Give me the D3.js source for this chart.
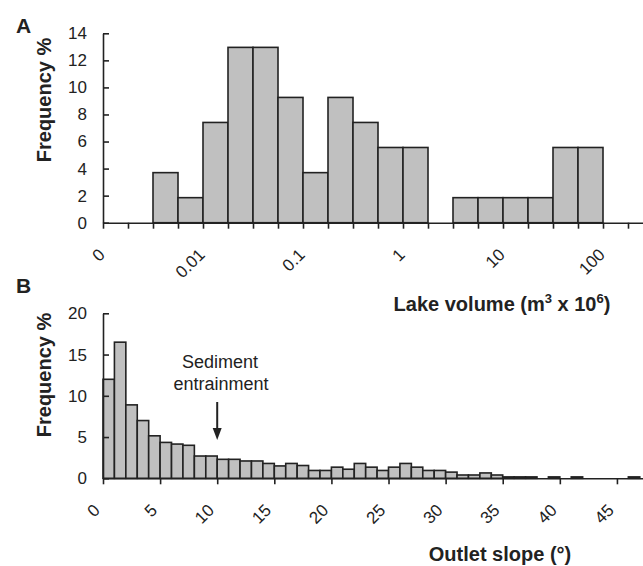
<!DOCTYPE html>
<html>
<head>
<meta charset="utf-8">
<script src="https://cdn.jsdelivr.net/npm/d3@7"></script>
<style>
  body { margin: 0; background: #fff; }
  svg { display: block; font-family: "Liberation Sans", Arial, sans-serif; }
</style>
</head>
<body>
<div id="chart"></div>
<script>
// Panel A: lake volume histogram, quarter-decade bins (frequency %)
const volumeFreq = [0, 0, 3.7, 1.85, 7.41, 12.96, 12.96, 9.26, 3.7, 9.26, 7.41,
  5.56, 5.56, 0, 1.85, 1.85, 1.85, 1.85, 5.56, 5.56, 0];
const volumeTickLabels = ["0", "0.01", "0.1", "1", "10", "100"];
const volumeLabelBins = [0, 4, 8, 12, 16, 20];
const volumeYTicks = [0, 2, 4, 6, 8, 10, 12, 14];

// Panel B: outlet slope histogram, 1 degree bins (frequency %)
const slopeFreq = [12.0, 16.5, 8.9, 7.0, 5.15, 4.35, 4.15, 4.0, 2.7, 2.7,
  2.3, 2.3, 2.1, 2.1, 1.8, 1.5, 1.8, 1.55, 0.95, 0.95,
  1.35, 1.1, 1.8, 1.35, 0.95, 1.35, 1.8, 1.35, 0.95, 0.95,
  0.75, 0.4, 0.4, 0.65, 0.4, 0.17, 0.17, 0.17, 0, 0.17,
  0, 0.17, 0, 0, 0, 0, 0.17];
const slopeXTicks = [0, 5, 10, 15, 20, 25, 30, 35, 40, 45];
const slopeYTicks = [0, 5, 10, 15, 20];
const entrainmentSlope = 10;

const W = 643, H = 566;
const ink = "#222";
const barFill = "#c0c0c0";

const svg = d3.select("#chart").append("svg")
  .attr("width", W).attr("height", H);

function styleAxis(g) {
  g.selectAll("path.domain").attr("stroke", ink).attr("stroke-width", 1.6);
  g.selectAll(".tick line").attr("stroke", ink).attr("stroke-width", 1.6);
  g.selectAll("text").attr("fill", ink).attr("font-size", 17)
    .attr("font-family", "'Liberation Sans', Arial, sans-serif");
}

// ---------- Panel A ----------
const xA = d3.scaleLinear().domain([0, 21.6]).range([103, 643]);
const yA = d3.scaleLinear().domain([0, 14]).range([222.7, 33.3]);

svg.append("g").selectAll("rect")
  .data(volumeFreq.map((v, i) => ({i, v})).filter(d => d.v > 0))
  .join("rect")
  .attr("x", d => xA(d.i))
  .attr("width", d => xA(d.i + 1) - xA(d.i))
  .attr("y", d => yA(d.v))
  .attr("height", d => yA(0) - yA(d.v))
  .attr("fill", barFill)
  .attr("stroke", ink)
  .attr("stroke-width", 1.6);

const axA = svg.append("g")
  .attr("transform", `translate(0,${yA(0)})`)
  .call(d3.axisBottom(xA).tickValues(d3.range(0, 22)).tickFormat("")
    .tickSizeInner(6).tickSizeOuter(0));
styleAxis(axA);

svg.append("g").selectAll("text")
  .data(volumeLabelBins)
  .join("text")
  .attr("transform", d => `translate(${xA(d) + 3},${yA(0) + 33}) rotate(-45)`)
  .attr("text-anchor", "end")
  .attr("font-size", 17)
  .attr("fill", ink)
  .text((d, i) => volumeTickLabels[i]);

const ayA = svg.append("g")
  .attr("transform", `translate(${xA(0)},0)`)
  .call(d3.axisLeft(yA).tickValues(volumeYTicks)
    .tickSizeInner(-6).tickSizeOuter(0).tickPadding(16));
styleAxis(ayA);

svg.append("text")
  .attr("transform", "translate(51,100) rotate(-90)")
  .attr("text-anchor", "middle")
  .attr("font-size", 20).attr("font-weight", "bold").attr("fill", ink)
  .text("Frequency %");

const volTitle = svg.append("text")
  .attr("x", 502).attr("y", 311)
  .attr("text-anchor", "middle")
  .attr("font-size", 20).attr("font-weight", "bold").attr("fill", ink);
volTitle.append("tspan").text("Lake volume (m");
volTitle.append("tspan").attr("font-size", 13).attr("dy", -8).text("3");
volTitle.append("tspan").attr("dy", 8).text(" x 10");
volTitle.append("tspan").attr("font-size", 13).attr("dy", -8).text("6");
volTitle.append("tspan").attr("dy", 8).text(")");

svg.append("text")
  .attr("x", 16).attr("y", 33)
  .attr("font-size", 21).attr("font-weight", "bold").attr("fill", ink)
  .text("A");

// ---------- Panel B ----------
const xB = d3.scaleLinear().domain([0, 47.3]).range([103, 643.2]);
const yB = d3.scaleLinear().domain([0, 20]).range([478.3, 313.3]);

svg.append("g").selectAll("rect")
  .data(slopeFreq.map((v, i) => ({i, v})).filter(d => d.v > 0))
  .join("rect")
  .attr("x", d => xB(d.i))
  .attr("width", d => xB(d.i + 1) - xB(d.i))
  .attr("y", d => yB(d.v))
  .attr("height", d => yB(0) - yB(d.v))
  .attr("fill", barFill)
  .attr("stroke", ink)
  .attr("stroke-width", 1.6);

const axB = svg.append("g")
  .attr("transform", `translate(0,${yB(0)})`)
  .call(d3.axisBottom(xB).tickValues(slopeXTicks).tickFormat("")
    .tickSizeInner(6).tickSizeOuter(0));
styleAxis(axB);

svg.append("g").selectAll("text")
  .data(slopeXTicks)
  .join("text")
  .attr("transform", d => `translate(${xB(d) - 2},${yB(0) + 33}) rotate(-45)`)
  .attr("text-anchor", "end")
  .attr("font-size", 17)
  .attr("fill", ink)
  .text(d => d);

const ayB = svg.append("g")
  .attr("transform", `translate(${xB(0)},0)`)
  .call(d3.axisLeft(yB).tickValues(slopeYTicks)
    .tickSizeInner(-6).tickSizeOuter(0).tickPadding(16));
styleAxis(ayB);

svg.append("text")
  .attr("transform", "translate(51,375) rotate(-90)")
  .attr("text-anchor", "middle")
  .attr("font-size", 20).attr("font-weight", "bold").attr("fill", ink)
  .text("Frequency %");

svg.append("text")
  .attr("x", 500).attr("y", 561)
  .attr("text-anchor", "middle")
  .attr("font-size", 20).attr("font-weight", "bold").attr("fill", ink)
  .text("Outlet slope (°)");

svg.append("text")
  .attr("x", 16).attr("y", 293)
  .attr("font-size", 21).attr("font-weight", "bold").attr("fill", ink)
  .text("B");

// annotation: sediment entrainment threshold
const ann = svg.append("g").attr("fill", ink).attr("font-size", 18);
ann.append("text").attr("x", 220).attr("y", 368).attr("text-anchor", "middle").text("Sediment");
ann.append("text").attr("x", 221).attr("y", 390).attr("text-anchor", "middle").text("entrainment");

const ax = xB(entrainmentSlope);
svg.append("line")
  .attr("x1", ax).attr("x2", ax).attr("y1", 402).attr("y2", 430)
  .attr("stroke", ink).attr("stroke-width", 2);
svg.append("path")
  .attr("d", `M${ax - 4.5},428 L${ax + 4.5},428 L${ax},440 Z`)
  .attr("fill", ink);
</script>
</body>
</html>
